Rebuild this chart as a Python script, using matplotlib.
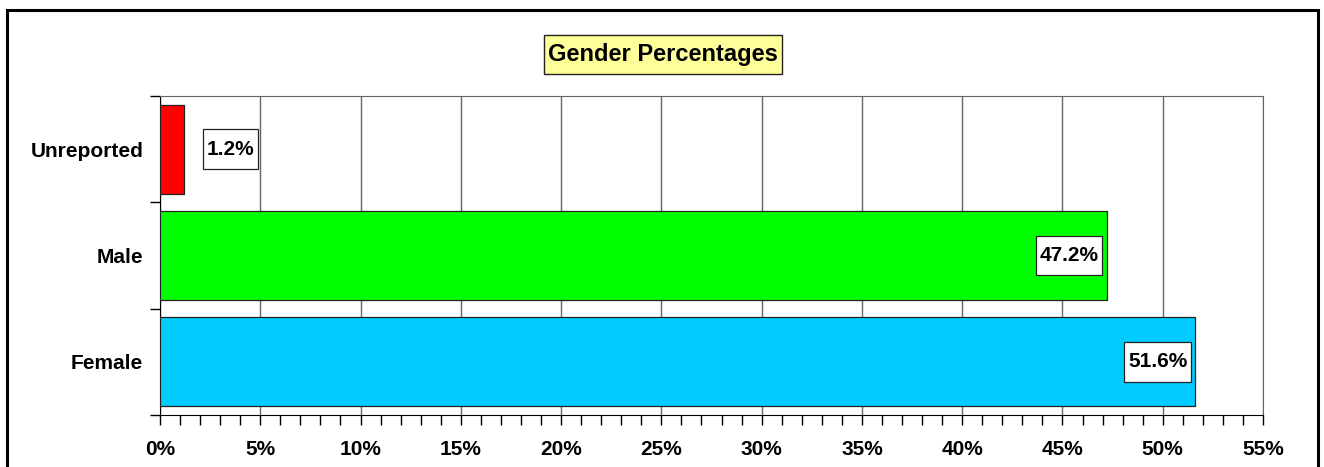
import matplotlib.pyplot as plt
from matplotlib.patches import Rectangle
from matplotlib.ticker import MultipleLocator, FixedLocator

plt.rcParams['font.family'] = ['Liberation Sans', 'DejaVu Sans']

categories = ["Female", "Male", "Unreported"]
values = [51.6, 47.2, 1.2]
colors = ["#00CCFF", "#00FF00", "#FF0000"]
title = "Gender Percentages"

fig = plt.figure(figsize=(13.24, 4.67), dpi=100)
ax = fig.add_axes([160 / 1324, 52 / 467, 1103 / 1324, 319 / 467])

pos = range(len(categories))
ax.barh(pos, values, height=0.84, color=colors, edgecolor="#222222", linewidth=0.9, zorder=3)

ax.set_xlim(0, 55)
ax.set_ylim(-0.5, len(categories) - 0.5)

# подписи значений
box = dict(boxstyle="square,pad=0.17", mutation_aspect=2.9, fc="white", ec="#222222", lw=0.9)
for i, v in enumerate(values):
    label = f"{v:.1f}%"
    if v < 5:
        ax.annotate(label, (v, i), xytext=(16.5, 0), textcoords="offset points",
                    ha="left", va="center", fontsize=15, fontweight="bold", zorder=5, bbox=box)
    else:
        ax.annotate(label, (v, i), xytext=(-5.5, 0), textcoords="offset points",
                    ha="right", va="center", fontsize=15, fontweight="bold", zorder=5, bbox=box)

# оси и сетка
ax.xaxis.set_major_locator(MultipleLocator(5))
ax.xaxis.set_minor_locator(MultipleLocator(1))
ax.set_xticklabels([f"{int(t)}%" for t in ax.get_xticks()])
ax.tick_params(axis="x", which="both", direction="out", length=7, width=1, pad=11)
ax.grid(axis="x", which="major", color="#666666", linewidth=1, zorder=0)

ax.set_yticks(list(pos))
ax.set_yticklabels(categories)
ax.yaxis.set_minor_locator(FixedLocator([-0.5, 0.5, 1.5, 2.5]))
ax.tick_params(axis="y", which="major", length=0, pad=12)
ax.tick_params(axis="y", which="minor", direction="out", length=7, width=1)

for lbl in ax.get_xticklabels() + ax.get_yticklabels():
    lbl.set_fontsize(15)
    lbl.set_fontweight("bold")

ax.spines["left"].set_color("black")
ax.spines["bottom"].set_color("black")
ax.spines["top"].set_color("#666666")
ax.spines["right"].set_color("#666666")

fig.text(663 / 1324, (467 - 54.5) / 467, title, ha="center", va="center",
         fontsize=17, fontweight="bold",
         bbox=dict(boxstyle="square,pad=0.19", mutation_aspect=1.8, fc="#FFFF99", ec="#222222", lw=1))

fig.patches.append(Rectangle((7 / 1324, -0.05), 1311 / 1324, 1.05 - 10 / 467,
                             transform=fig.transFigure, fill=False, ec="black", lw=2.2))

fig.savefig("out.png", dpi=100)
plt.close(fig)
